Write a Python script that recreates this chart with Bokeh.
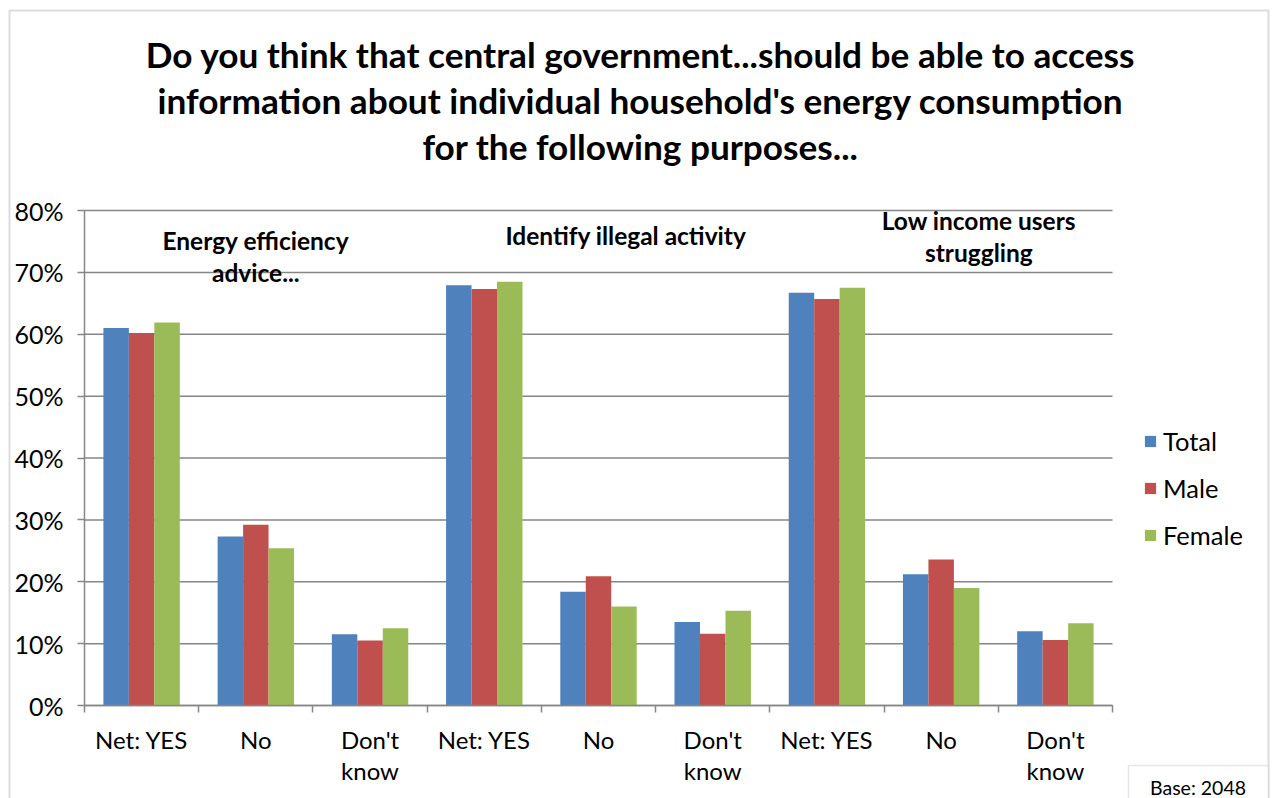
from bokeh.plotting import figure
from bokeh.models import (Range1d, FixedTicker, PrintfTickFormatter, Label, Legend,
                          LegendItem, BoxAnnotation)
from bokeh.embed import file_html
from bokeh.resources import INLINE

# ---------------- data ----------------
categories = ["Net: YES", "No", "Don't\nknow", "Net: YES", "No", "Don't\nknow",
              "Net: YES", "No", "Don't\nknow"]
series_names = ["Total", "Male", "Female"]
total = [61.0, 27.3, 11.5, 67.9, 18.4, 13.5, 66.7, 21.2, 12.0]
male = [60.2, 29.2, 10.5, 67.3, 20.9, 11.6, 65.7, 23.6, 10.6]
female = [61.9, 25.4, 12.5, 68.5, 16.0, 15.3, 67.5, 19.0, 13.3]
group_labels = [["Energy efficiency", "advice..."],
                ["Identify illegal activity"],
                ["Low income users", "struggling"]]
y_ticks = [0, 10, 20, 30, 40, 50, 60, 70, 80]
title_lines = ["Do you think that central government...should be able to access",
               "information about individual household's energy consumption",
               "for the following purposes..."]
base_text = "Base:  2048"

# ---------------- style / layout ----------------
colors = ["#4F81BD", "#C0504D", "#9BBB59"]
FONT = "Lato"
GRID = "#868686"
W, H = 1273, 798
PL, PR, PT, PB = 84, 1112, 210, 705     # plot area in canvas px
N = len(categories)
YMAX = 80
sx = (PR - PL) / N
sy = (PB - PT) / YMAX
x_range = Range1d(-PL / sx, N + (W - PR) / sx)
y_range = Range1d(-(H - PB) / sy, YMAX + PT / sy)

p = figure(width=W, height=H, output_backend="svg", toolbar_location=None,
           x_range=x_range, y_range=y_range, title=None,
           min_border_left=0, min_border_right=0, min_border_top=0, min_border_bottom=0)
p.outline_line_color = None
p.background_fill_color = "white"
p.border_fill_color = "white"
p.xgrid.visible = False
p.ygrid.visible = False

# horizontal gridlines across the plot area only
p.segment(x0=[0] * len(y_ticks), x1=[N] * len(y_ticks), y0=y_ticks, y1=y_ticks,
          line_color=GRID, line_width=1.5)

# bars
bw = 0.223
offsets = [-bw, 0.0, bw]
renderers = []
for vals, off, col in zip([total, male, female], offsets, colors):
    xs = [i + 0.5 + off for i in range(N)]
    r = p.vbar(x=xs, top=vals, bottom=0, width=bw, fill_color=col, line_color=None)
    renderers.append(r)

# axes (fixed inside the full-canvas frame)
xa = p.xaxis[0]
xa.fixed_location = 0
xa.bounds = (0, N)
xa.ticker = FixedTicker(ticks=[i + 0.5 for i in range(N)], minor_ticks=list(range(N + 1)))
xa.major_label_overrides = {i + 0.5: c for i, c in enumerate(categories)}
xa.major_tick_out = 0
xa.major_tick_in = 0
xa.minor_tick_out = 7
xa.minor_tick_in = 0
xa.minor_tick_line_color = GRID
xa.minor_tick_line_width = 1.5
xa.axis_line_color = GRID
xa.axis_line_width = 1.5
xa.major_label_text_font = FONT
xa.major_label_text_font_size = "24px"
xa.major_label_text_line_height = 1.08
xa.major_label_text_color = "black"
xa.major_label_standoff = 12

ya = p.yaxis[0]
ya.fixed_location = 0
ya.bounds = (0, YMAX)
ya.ticker = FixedTicker(ticks=y_ticks, minor_ticks=[])
ya.formatter = PrintfTickFormatter(format="%d%%")
ya.major_tick_out = 7
ya.major_tick_in = 0
ya.major_tick_line_color = GRID
ya.major_tick_line_width = 1.5
ya.axis_line_color = GRID
ya.axis_line_width = 1.5
ya.major_label_text_font = FONT
ya.major_label_text_font_size = "25px"
ya.major_label_text_color = "black"
ya.major_label_standoff = 14

# group annotations inside plot (data coords)
group_pos = [(1.5, [75.1, 69.9]), (4.74, [75.9]), (7.83, [78.4, 73.2])]
for lines, (gx, ys) in zip(group_labels, group_pos):
    for txt, gy in zip(lines, ys):
        p.add_layout(Label(x=gx, y=gy, text=txt, text_align="center",
                           text_baseline="middle", text_font=FONT,
                           text_font_style="bold", text_font_size="24.5px",
                           text_color="black"))

# title (screen units, measured from bottom-left of canvas)
for txt, cy in zip(title_lines, [53, 99, 145]):
    p.add_layout(Label(x=640, y=H - cy, x_units="screen", y_units="screen",
                       text=txt, text_align="center", text_baseline="middle",
                       text_font=FONT, text_font_style="bold",
                       text_font_size="35.2px", text_color="black"))

# legend
items = [LegendItem(label=n, renderers=[r]) for n, r in zip(series_names, renderers)]
leg = Legend(items=items, location=(1143, H - 549.5), glyph_width=14, glyph_height=14,
             label_text_font=FONT, label_text_font_size="25.5px", label_text_color="black",
             label_standoff=6, label_height=20, spacing=17, padding=0, margin=0,
             border_line_color=None, background_fill_alpha=0)
p.add_layout(leg, "center")

# outer chart border
p.add_layout(BoxAnnotation(left=9, right=1268, top=H - 10, bottom=-20,
                           left_units="screen", right_units="screen",
                           top_units="screen", bottom_units="screen",
                           fill_alpha=0, line_color="#8c8c8c", line_width=2, level="overlay"))
# base box
p.add_layout(BoxAnnotation(left=1128, right=1268, top=H - 765, bottom=-20,
                           left_units="screen", right_units="screen",
                           top_units="screen", bottom_units="screen",
                           fill_color="white", fill_alpha=1, line_color="#b0b0b0",
                           line_width=1.5, level="overlay"))
p.add_layout(Label(x=1200, y=H - 787, x_units="screen", y_units="screen", text=base_text,
                   text_align="center", text_baseline="middle", text_font=FONT,
                   text_font_size="19.5px", text_color="black", level="overlay"))

open("out.html", "w").write(file_html(p, INLINE))
